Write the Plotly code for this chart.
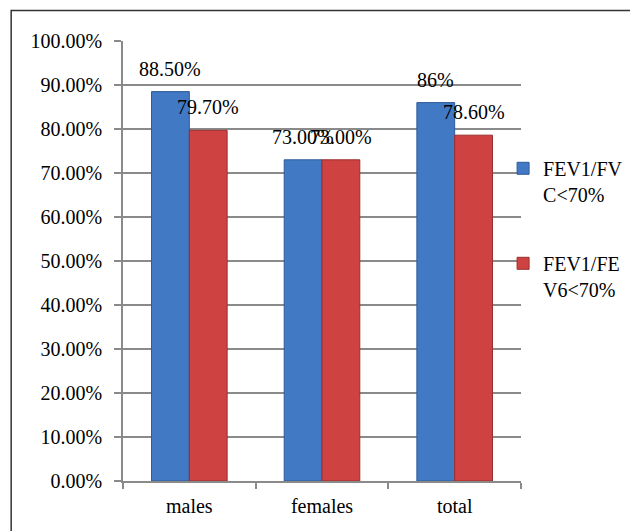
import plotly.graph_objects as go

# Spirometry obstruction rates by group
categories = ["males", "females", "total"]
fev1_fvc = [0.885, 0.73, 0.86]
fev1_fev6 = [0.797, 0.73, 0.786]
fvc_labels = ["88.50%", "73.00%", "86%"]
fev6_labels = ["79.70%", "73.00%", "78.60%"]
series_names = ["FEV1/FV<br>C<70%", "FEV1/FE<br>V6<70%"]
y_ticks = [i / 10 for i in range(11)]

FONT = "Times New Roman"
BLUE, BLUE_EDGE = "#4279c4", "#2f5c99"
RED, RED_EDGE = "#cf4242", "#9a2e2c"

fig = go.Figure()
fig.add_trace(go.Bar(
    x=categories, y=fev1_fvc, name=series_names[0], legendgroup="a",
    marker=dict(color=BLUE, line=dict(color=BLUE_EDGE, width=1)),
))
fig.add_trace(go.Bar(
    x=categories, y=fev1_fev6, name=series_names[1], legendgroup="b",
    marker=dict(color=RED, line=dict(color=RED_EDGE, width=1)),
))

# value labels above each bar
annotations = []
for cat, v, t in zip(categories, fev1_fvc, fvc_labels):
    annotations.append(dict(x=cat, y=v, text=t, xshift=-19, yshift=10,
                            yanchor="bottom", showarrow=False))
for cat, v, t in zip(categories, fev1_fev6, fev6_labels):
    annotations.append(dict(x=cat, y=v, text=t, xshift=19, yshift=10,
                            yanchor="bottom", showarrow=False))

fig.update_layout(
    width=630, height=531,
    margin=dict(l=123, r=109, t=41, b=50, autoexpand=False),
    paper_bgcolor="white", plot_bgcolor="white",
    font=dict(family=FONT, size=20, color="black"),
    barmode="group", bargap=0.43, bargroupgap=0,
    showlegend=True,
    legend=dict(x=0.955, xanchor="left", y=0.755, yanchor="top",
                traceorder="grouped", tracegroupgap=40, valign="top",
                font=dict(family=FONT, size=20), itemwidth=30,
                bgcolor="rgba(0,0,0,0)"),
    annotations=annotations,
    shapes=[dict(type="rect", xref="paper", yref="paper",
                 x0=-0.281, x1=1.28, y0=-0.2, y1=1.0695,
                 line=dict(color="#333333", width=1.5), layer="below")],
)
fig.update_xaxes(
    showgrid=False, showline=True, linecolor="#8a8a8a", linewidth=1.5,
    ticks="outside", tickson="boundaries", ticklen=6, tickcolor="#8a8a8a",
    tickwidth=1.5, tickfont=dict(family=FONT, size=20), automargin=False,
    ticklabelstandoff=6,
)
fig.update_yaxes(
    range=[0, 1], tickvals=y_ticks, tickformat=".2%",
    showgrid=True, gridcolor="#8a8a8a", gridwidth=1.5,
    showline=True, linecolor="#8a8a8a", linewidth=1.5,
    ticks="outside", ticklen=7, tickcolor="#8a8a8a", tickwidth=1.5,
    tickfont=dict(family=FONT, size=20), zeroline=False, automargin=False,
    ticklabelstandoff=8,
)

fig.write_html("out.html")
